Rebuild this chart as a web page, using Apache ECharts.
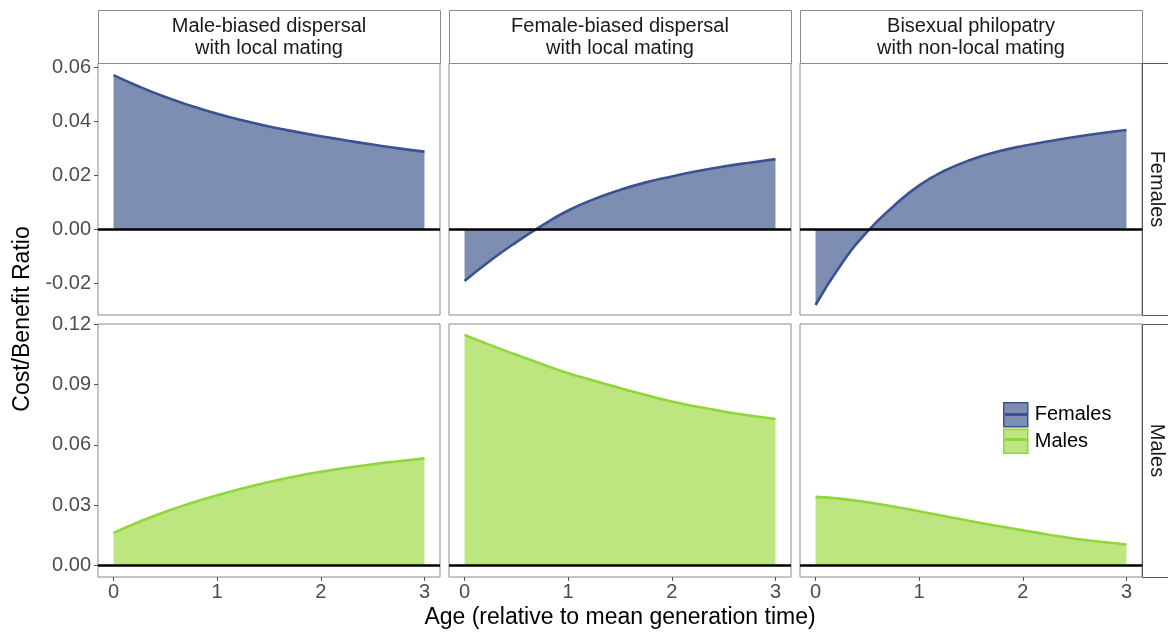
<!DOCTYPE html>
<html><head><meta charset="utf-8">
<script src="https://cdn.jsdelivr.net/npm/echarts@6/dist/echarts.min.js"></script>
<style>html,body{margin:0;padding:0;background:#fff}#c{width:1168px;height:632px}</style>
</head><body><div id="c"></div>
<script>
const age = [0, 0.25, 0.5, 0.75, 1, 1.25, 1.5, 1.75, 2, 2.25, 2.5, 2.75, 3];
const panelTitles = ['Male-biased dispersal\nwith local mating', 'Female-biased dispersal\nwith local mating', 'Bisexual philopatry\nwith non-local mating'];
const rowTitles = ['Females', 'Males'];
const xTicks = [0, 1, 2, 3];
const yTicksFemales = [-0.02, 0, 0.02, 0.04, 0.06];
const yTicksMales = [0, 0.03, 0.06, 0.09, 0.12];

const femMaleBiased   = [0.0571, 0.0528, 0.0490, 0.0457, 0.0428, 0.0403, 0.0381, 0.0362, 0.0345, 0.0329, 0.0314, 0.0300, 0.0288];
const femFemaleBiased = [-0.0191, -0.0115, -0.0047, 0.0015, 0.0070, 0.0112, 0.0146, 0.0174, 0.0196, 0.0216, 0.0233, 0.0247, 0.0260];
const femBisexual     = [-0.0280, -0.0128, -0.0008, 0.0085, 0.0163, 0.0218, 0.0258, 0.0287, 0.0309, 0.0326, 0.0342, 0.0356, 0.0368];
const malMaleBiased   = [0.0163, 0.0218, 0.0268, 0.0311, 0.0350, 0.0385, 0.0416, 0.0443, 0.0466, 0.0486, 0.0504, 0.0519, 0.0533];
const malFemaleBiased = [0.1146, 0.1095, 0.1047, 0.1000, 0.0956, 0.0918, 0.0882, 0.0847, 0.0815, 0.0789, 0.0766, 0.0746, 0.0728];
const malBisexual     = [0.0342, 0.0332, 0.0315, 0.0294, 0.0270, 0.0246, 0.0221, 0.0198, 0.0176, 0.0154, 0.0134, 0.0119, 0.0105];

const FONT = 'Liberation Sans, Arial, sans-serif';
const col = {
  Females: {line: '#3a5192', fill: '#7e8db2'},
  Males: {line: '#8fd63a', fill: '#bee680'}
};
const colLeft = [98, 449, 800];
const colW = 342;
const rowTop = [63, 324];
const rowH = [252, 253];
const yRange = [[-0.0317, 0.0616], [-0.0056, 0.1200]];
const data = [[femMaleBiased, femFemaleBiased, femBisexual], [malMaleBiased, malFemaleBiased, malBisexual]];

const grids = [], xAxes = [], yAxes = [], series = [], graphics = [];
let idx = 0;
for (let r = 0; r < 2; r++) {
  for (let c = 0; c < 3; c++) {
    grids.push({left: colLeft[c], top: rowTop[r], width: colW, height: rowH[r], show: true,
      borderColor: '#8a8a8a', borderWidth: 1, backgroundColor: '#fff', containLabel: false});
    xAxes.push({type: 'value', gridIndex: idx, min: -0.15, max: 3.15, position: 'bottom',
      axisLine: {show: false, onZero: false}, splitLine: {show: false},
      axisTick: {show: r === 1, length: 4, lineStyle: {color: '#555'}, customValues: xTicks},
      axisLabel: {show: r === 1, customValues: xTicks, color: '#4d4d4d', fontSize: 20, fontFamily: FONT, margin: 5}});
    const yt = r === 0 ? yTicksFemales : yTicksMales;
    yAxes.push({type: 'value', gridIndex: idx, min: yRange[r][0], max: yRange[r][1], position: 'left',
      axisLine: {show: false, onZero: false}, splitLine: {show: false},
      axisTick: {show: c === 0, length: 4, lineStyle: {color: '#555'}, customValues: yt},
      axisLabel: {show: c === 0, customValues: yt, color: '#4d4d4d', fontSize: 20, fontFamily: FONT, margin: 7,
        formatter: v => v.toFixed(2)}});
    const name = rowTitles[r];
    series.push({type: 'line', name: name, xAxisIndex: idx, yAxisIndex: idx,
      data: age.map((a, i) => [a, data[r][c][i]]), smooth: 0.5, symbol: 'none',
      lineStyle: {color: col[name].line, width: 2.6},
      itemStyle: {color: col[name].line},
      areaStyle: {color: col[name].fill, opacity: 1, origin: 0},
      z: 2,
      markLine: {silent: true, symbol: 'none', label: {show: false},
        lineStyle: {color: '#000', width: 2.6, type: 'solid'}, data: [{yAxis: 0}], z: 5}});
    idx++;
  }
}
// top strips
for (let c = 0; c < 3; c++) {
  graphics.push({type: 'rect', shape: {x: colLeft[c] + 0.5, y: 10.5, width: colW, height: 53},
    style: {fill: '#fff', stroke: '#8a8a8a', lineWidth: 1}});
  graphics.push({type: 'text', x: colLeft[c] + colW / 2, y: 37,
    style: {text: panelTitles[c], fill: '#1a1a1a', font: '20px ' + FONT, align: 'center', verticalAlign: 'middle', lineHeight: 22}});
}
// right strips
for (let r = 0; r < 2; r++) {
  graphics.push({type: 'rect', shape: {x: 1142.5, y: rowTop[r] + 0.5, width: 40, height: rowH[r]},
    style: {fill: '#fff', stroke: '#555', lineWidth: 1}});
  graphics.push({type: 'text', x: 1157, y: rowTop[r] + rowH[r] / 2, rotation: -Math.PI / 2,
    style: {text: rowTitles[r], fill: '#1a1a1a', font: '20px ' + FONT, align: 'center', verticalAlign: 'middle'}});
}
// axis titles
graphics.push({type: 'text', x: 620, y: 618,
  style: {text: 'Age (relative to mean generation time)', fill: '#000', font: '23px ' + FONT, align: 'center', verticalAlign: 'middle'}});
graphics.push({type: 'text', x: 23, y: 319, rotation: Math.PI / 2,
  style: {text: 'Cost/Benefit Ratio', fill: '#000', font: '23px ' + FONT, align: 'center', verticalAlign: 'middle'}});
// legend key centre lines
graphics.push({type: 'line', shape: {x1: 1005, y1: 414.5, x2: 1027, y2: 414.5}, style: {stroke: col.Females.line, lineWidth: 3}, z: 100});
graphics.push({type: 'line', shape: {x1: 1005, y1: 439.5, x2: 1027, y2: 439.5}, style: {stroke: col.Males.line, lineWidth: 3}, z: 100});

const chart = echarts.init(document.getElementById('c'), null, {renderer: 'canvas'});
chart.setOption({
  animation: false,
  backgroundColor: '#fff',
  grid: grids, xAxis: xAxes, yAxis: yAxes, series: series,
  legend: {orient: 'vertical', left: 1003, top: 402, itemWidth: 24, itemHeight: 24, itemGap: 1,
    textStyle: {color: '#000', fontSize: 20, fontFamily: FONT, padding: [0, 0, 0, 2]}, padding: 0,
    selectedMode: false,
    data: [
      {name: 'Females', icon: 'rect', itemStyle: {color: col.Females.fill, borderColor: col.Females.line, borderWidth: 1.5}},
      {name: 'Males', icon: 'rect', itemStyle: {color: col.Males.fill, borderColor: col.Males.line, borderWidth: 1.5}}
    ]},
  graphic: graphics
});
</script></body></html>
